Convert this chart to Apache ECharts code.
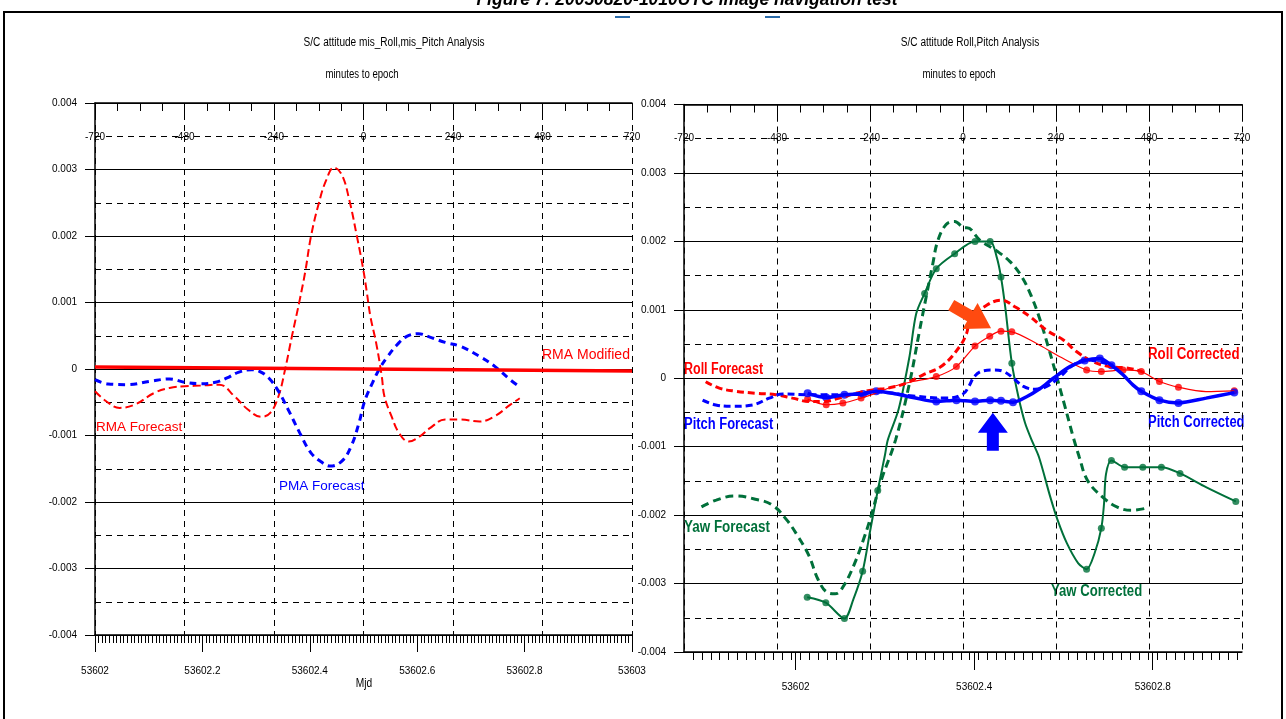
<!DOCTYPE html>
<html><head><meta charset="utf-8">
<script src="https://cdn.jsdelivr.net/npm/echarts@6/dist/echarts.min.js"></script>
<style>html,body{margin:0;padding:0;background:#fff}#c{width:1286px;height:719px}</style>
</head><body><div id="c"></div><script>
// ---------- data (x = minutes to epoch, y = attitude value) ----------
const minuteTicks = [-720, -480, -240, 0, 240, 480, 720];
const yTicks = [-0.004, -0.003, -0.002, -0.001, 0, 0.001, 0.002, 0.003, 0.004];
const mjdLabelsRight = [53602, 53602.4, 53602.8];

// left chart
const rmaModified = [[-720, 0.00003], [720, -0.00003]];
const rmaForecast = [[-720,-0.000335],[-690,-0.000485],[-654,-0.000585],[-613,-0.000535],[-561,-0.00036],[-520,-0.000285],[-479,-0.00026],[-438,-0.00025],[-387,-0.000235],[-346,-0.00041],[-310,-0.00061],[-274,-0.00072],[-250,-0.00066],[-228,-0.00041],[-210,0],[-192,0.00049],[-171,0.00104],[-156,0.00147],[-141,0.00199],[-120,0.00249],[-100,0.00284],[-79,0.00303],[-58,0.00292],[-38,0.00254],[-17.5,0.00199],[-2,0.00154],[8,0.00119],[18.5,0.00079],[34,0.00039],[49,-0.00011],[56,-0.00041],[75,-0.00071],[95,-0.00096],[121,-0.00109],[152,-0.00101],[178,-0.00089],[219,-0.00076],[260,-0.00076],[311,-0.00079],[352,-0.00071],[393,-0.00054],[419,-0.00044]];
const pmaForecast = [[-720,-0.00016],[-685,-0.000225],[-633,-0.000235],[-572,-0.000185],[-520,-0.00015],[-479,-0.0002],[-438,-0.00022],[-397,-0.0002],[-366,-0.000135],[-336,-0.00005],[-300,-0.00001],[-279,-0.000035],[-254,-0.000135],[-228,-0.000335],[-202,-0.00061],[-171,-0.00096],[-141,-0.00126],[-110,-0.00141],[-89,-0.00146],[-58,-0.001385],[-33,-0.00116],[-12,-0.00081],[3,-0.000485],[24,-0.00021],[44,0.000015],[65,0.00019],[90,0.000365],[116,0.00049],[147,0.00053],[178,0.00048],[219,0.0004],[260,0.00034],[311,0.00019],[352,0.00004],[393,-0.00016],[419,-0.00027]];

// right chart
const rollForecast = [[-664,-0.00005],[-629,-0.000145],[-586,-0.00019],[-534,-0.00022],[-483,-0.00024],[-440,-0.00029],[-396,-0.00034],[-362,-0.00034],[-319,-0.00029],[-276,-0.00022],[-233,-0.00017],[-190,-0.00014],[-146,-0.00007],[-103,0.00005],[-52,0.00019],[-9,0.00046],[9,0.00065],[19,0.00085],[62,0.00107],[100,0.00114],[135,0.00104],[173,0.0009],[216,0.0007],[259,0.00056],[293,0.00039],[336,0.00024],[379,0.00017],[422,0.00015],[460,0.0001],[473,0.00005]];
const rollCorrected = [[-401,-0.000305],[-353,-0.000387],[-310,-0.000363],[-263,-0.00029],[-224,-0.000218],[-181,-0.000121],[-129,-0.000048],[-69,0.000024],[-17,0.00017],[31,0.00047],[69,0.000615],[98,0.000688],[126,0.000678],[190,0.000508],[250,0.000315],[319,0.000121],[357,0.000097],[413,0.000121],[460,0.000097],[507,-0.000048],[556,-0.000131],[627,-0.000194],[700,-0.000184]];
const rollCorrectedDots = [[-401,-0.000305],[-353,-0.000387],[-310,-0.000363],[-263,-0.00029],[-69,0.000024],[-17,0.00017],[31,0.00047],[69,0.000615],[98,0.000688],[126,0.000678],[319,0.000121],[357,0.000097],[413,0.000121],[460,0.000097],[507,-0.000048],[556,-0.000131],[700,-0.000184]];
const pitchForecast = [[-672,-0.00032],[-638,-0.00039],[-595,-0.00041],[-543,-0.00039],[-500,-0.00029],[-465,-0.00023],[-405,-0.00024],[-310,-0.00024],[-224,-0.0002],[-129,-0.00026],[-43,-0.00029],[0,-0.00023],[15,-0.00012],[30,0.00003],[53,0.00011],[79,0.00012],[104,0.0001],[130,0],[156,-0.00012],[186,-0.00016],[216,-0.00012],[250,0.00002],[284,0.00019],[319,0.00027],[353,0.00024],[387,0.00019]];
const pitchCorrected = [[-401,-0.00022],[-353,-0.00028],[-306,-0.00024],[-258,-0.00023],[-224,-0.00019],[-172,-0.00023],[-129,-0.00028],[-69,-0.00034],[-17,-0.00032],[31,-0.00034],[70,-0.00032],[98,-0.00033],[129,-0.00035],[164,-0.00027],[199,-0.00015],[233,0],[276,0.00017],[314,0.00026],[353,0.00029],[383,0.00019],[413,0.00005],[439,-0.0001],[460,-0.00019],[507,-0.00032],[556,-0.00036],[627,-0.00029],[700,-0.00021]];
const pitchCorrectedDots = [[-401,-0.00022],[-353,-0.00028],[-306,-0.00024],[-258,-0.00023],[-224,-0.00019],[-69,-0.00034],[-17,-0.00032],[31,-0.00034],[70,-0.00032],[98,-0.00033],[129,-0.00035],[314,0.00026],[353,0.00029],[383,0.00019],[460,-0.00019],[507,-0.00032],[556,-0.00036],[700,-0.00021]];
const yawForecast = [[-675,-0.00188],[-637,-0.00178],[-589,-0.00172],[-541,-0.00176],[-493,-0.00185],[-455,-0.00207],[-426,-0.00231],[-397,-0.0026],[-374,-0.00294],[-350,-0.00313],[-330,-0.00315],[-311,-0.00306],[-283,-0.00275],[-254,-0.00231],[-235,-0.00197],[-211,-0.00149],[-174,-0.0009],[-138,-0.00007],[-112,0.0007],[-95,0.00119],[-78,0.00167],[-65,0.00201],[-43,0.00225],[-21.5,0.00229],[4,0.0022],[10,0.0022],[45,0.00201],[87,0.00186],[122,0.0017],[152,0.00148],[177,0.00119],[199,0.00085],[220,0.00046],[242,0.00002],[263,-0.00041],[284,-0.00085],[300,-0.00115],[321,-0.00149],[359,-0.00173],[397,-0.00188],[436,-0.00193],[479,-0.00189]];
const yawCorrected = [[-402,-0.0032],[-354,-0.00328],[-306,-0.00351],[-283,-0.00323],[-259,-0.00282],[-239,-0.00221],[-220,-0.00164],[-201,-0.00111],[-194,-0.0009],[-166,-0.00045],[-138,0.00032],[-121,0.00094],[-99,0.00124],[-69,0.0016],[-21.5,0.00182],[31,0.002],[70,0.002],[87,0.00177],[98,0.00148],[109,0.00104],[126,0.00022],[143,-0.00027],[160,-0.00065],[177,-0.0009],[196,-0.00115],[225,-0.00173],[244,-0.00207],[268,-0.00241],[297,-0.0027],[319,-0.00279],[340,-0.00255],[357,-0.00219],[364,-0.00183],[369,-0.0014],[383,-0.0012],[417,-0.0013],[464,-0.0013],[512,-0.0013],[560,-0.00139],[627,-0.00159],[704,-0.0018]];
const yawCorrectedDots = [[-402,-0.0032],[-354,-0.00328],[-306,-0.00351],[-259,-0.00282],[-220,-0.00164],[-99,0.00124],[-69,0.0016],[-21.5,0.00182],[31,0.002],[70,0.002],[98,0.00148],[126,0.00022],[319,-0.00279],[357,-0.00219],[383,-0.0012],[417,-0.0013],[464,-0.0013],[512,-0.0013],[560,-0.00139],[704,-0.0018]];
const redArrowAt = [21, 0.0009];
const blueArrowAt = [77, -0.00078];

// ---------- styling ----------
const NARROW = "'Liberation Sans Narrow','Liberation Sans',Arial,sans-serif";
const SANS = "'Liberation Sans',Arial,sans-serif";
const RED = '#ff0000', BLUE = '#0000ff', GREEN = '#00703a';
const BLACK = '#000';
const arrowPath = 'path://M15,0 L30,20 L21,20 L21,38 L9,38 L9,20 L0,20 Z';

function yFmt(v) { const r = Math.round(v * 1000) / 1000; return r === 0 ? '0' : r.toFixed(3); }
function mjdFmt(v) { return String(Math.round(v * 10) / 10); }

function minutesAxis(gi) {
  return {
    type: 'value', gridIndex: gi, position: 'top', min: -720, max: 720, interval: 240,
    axisLine: { show: true, onZero: false, lineStyle: { color: BLACK, width: 1.5 } },
    axisTick: { show: true, inside: true, length: 17, lineStyle: { color: BLACK, width: 1 } },
    minorTick: { show: true, splitNumber: 4, length: 8, lineStyle: { color: BLACK, width: 1 } },
    axisLabel: { inside: true, margin: 29, fontSize: 10, fontFamily: NARROW, color: BLACK },
    splitLine: { show: true, lineStyle: { color: BLACK, width: 1, type: [6, 5] } }
  };
}
function yAxisFor(gi) {
  return {
    type: 'value', gridIndex: gi, min: -0.004, max: 0.004, interval: 0.001,
    axisLine: { show: true, onZero: false, lineStyle: { color: BLACK, width: 1.5 } },
    axisTick: { show: true, length: 10, lineStyle: { color: BLACK } },
    minorTick: { show: false, splitNumber: 2 },
    axisLabel: { margin: 18, fontSize: 10, fontFamily: NARROW, color: BLACK, formatter: yFmt },
    splitLine: { show: true, lineStyle: { color: BLACK, width: 1 } },
    minorSplitLine: { show: true, lineStyle: { color: BLACK, width: 1, type: [6, 5] } }
  };
}

const minorRight = [];
for (let i = 1; i < 63; i++) minorRight.push(Math.round((53601.75 + i * 0.02) * 100) / 100);

function label(x, y, text, color, size, bold, sx) {
  return { type: 'text', x: x, y: y, scaleX: sx, style: { text: text, verticalAlign: 'middle', fontSize: size,
    fontWeight: bold ? 'bold' : 'normal', fontFamily: SANS, fill: color } };
}
function caption(x, y, text, sx) {
  return { type: 'text', x: x, y: y, scaleX: sx, style: { text: text, align: 'center', verticalAlign: 'middle',
    fontSize: 12, fontFamily: SANS, fill: BLACK } };
}

const option = {
  animation: false,
  backgroundColor: '#fff',
  grid: [
    { left: 95, top: 103, width: 537, height: 532, containLabel: false },
    { left: 684, top: 104.5, width: 558, height: 547.5, containLabel: false }
  ],
  xAxis: [
    minutesAxis(0),
    { type: 'value', gridIndex: 0, position: 'bottom', min: 53602, max: 53603, interval: 0.2,
      axisLine: { show: true, onZero: false, lineStyle: { color: BLACK, width: 1.5 } },
      axisTick: { show: true, length: 17, lineStyle: { color: BLACK } },
      minorTick: { show: true, splitNumber: 30, length: 8, lineStyle: { color: BLACK } },
      axisLabel: { margin: 31, fontSize: 10, fontFamily: NARROW, color: BLACK, formatter: mjdFmt },
      splitLine: { show: false } },
    minutesAxis(1),
    { type: 'value', gridIndex: 1, position: 'bottom', min: 53601.75, max: 53603,
      axisLine: { show: true, onZero: false, lineStyle: { color: BLACK, width: 1.5 } },
      axisTick: { show: true, length: 18, customValues: mjdLabelsRight, lineStyle: { color: BLACK } },
      axisLabel: { margin: 30, fontSize: 10, fontFamily: NARROW, color: BLACK, customValues: mjdLabelsRight, formatter: mjdFmt },
      splitLine: { show: false } },
    { type: 'value', gridIndex: 1, position: 'bottom', min: 53601.75, max: 53603,
      axisLine: { show: false, onZero: false },
      axisTick: { show: true, length: 8, customValues: minorRight, lineStyle: { color: BLACK } },
      axisLabel: { show: false, customValues: minorRight },
      splitLine: { show: false } }
  ],
  yAxis: [yAxisFor(0), yAxisFor(1)],
  series: [
    { type: 'line', xAxisIndex: 0, yAxisIndex: 0, data: rmaForecast, smooth: 0.4, showSymbol: false,
      lineStyle: { color: RED, width: 2, type: [8, 4] } },
    { type: 'line', xAxisIndex: 0, yAxisIndex: 0, data: pmaForecast, smooth: 0.4, showSymbol: false,
      lineStyle: { color: BLUE, width: 3, type: [7, 5] } },
    { type: 'line', xAxisIndex: 0, yAxisIndex: 0, data: rmaModified, showSymbol: false,
      lineStyle: { color: RED, width: 3.5 } },

    { type: 'line', xAxisIndex: 2, yAxisIndex: 1, data: yawForecast, smooth: 0.4, showSymbol: false,
      lineStyle: { color: GREEN, width: 3, type: [8, 5] } },
    { type: 'line', xAxisIndex: 2, yAxisIndex: 1, data: yawCorrected, smooth: 0.3, showSymbol: false,
      lineStyle: { color: GREEN, width: 2 } },
    { type: 'scatter', xAxisIndex: 2, yAxisIndex: 1, data: yawCorrectedDots, symbolSize: 7,
      itemStyle: { color: GREEN } },
    { type: 'line', xAxisIndex: 2, yAxisIndex: 1, data: rollForecast, smooth: 0.4, showSymbol: false,
      lineStyle: { color: RED, width: 3, type: [7, 4] },
      markPoint: { symbol: arrowPath, symbolSize: [30, 46], symbolRotate: -120, itemStyle: { color: '#ff4a10' },
        label: { show: false }, data: [{ coord: redArrowAt }] } },
    { type: 'line', xAxisIndex: 2, yAxisIndex: 1, data: rollCorrected, smooth: 0.3, showSymbol: false,
      lineStyle: { color: RED, width: 1.2 } },
    { type: 'scatter', xAxisIndex: 2, yAxisIndex: 1, data: rollCorrectedDots, symbolSize: 7,
      itemStyle: { color: RED } },
    { type: 'line', xAxisIndex: 2, yAxisIndex: 1, data: pitchForecast, smooth: 0.4, showSymbol: false,
      lineStyle: { color: BLUE, width: 3, type: [7, 4] },
      markPoint: { symbol: arrowPath, symbolSize: [30, 38], itemStyle: { color: BLUE },
        label: { show: false }, data: [{ coord: blueArrowAt }] } },
    { type: 'line', xAxisIndex: 2, yAxisIndex: 1, data: pitchCorrected, smooth: 0.3, showSymbol: false,
      lineStyle: { color: BLUE, width: 3.5 } },
    { type: 'scatter', xAxisIndex: 2, yAxisIndex: 1, data: pitchCorrectedDots, symbolSize: 8,
      itemStyle: { color: BLUE } }
  ],
  graphic: [
    { type: 'rect', shape: { x: 4, y: 12, width: 1278, height: 720 }, style: { fill: 'none', stroke: BLACK, lineWidth: 2 }, z: 100 },
    { type: 'text', x: 687, y: 9, style: { text: 'Figure 7: 20050820-1010UTC image navigation test', align: 'center', verticalAlign: 'bottom', fontSize: 17.5, fontWeight: 'bold', fontStyle: 'italic', fontFamily: SANS, fill: BLACK } },
    { type: 'rect', shape: { x: 615, y: 16, width: 15, height: 2 }, style: { fill: '#2a6aa8' } },
    { type: 'rect', shape: { x: 765, y: 16, width: 15, height: 2 }, style: { fill: '#2a6aa8' } },
    caption(394, 43, 'S/C attitude mis_Roll,mis_Pitch Analysis', 0.84),
    caption(362, 75, 'minutes to epoch', 0.8),
    caption(970, 43, 'S/C attitude Roll,Pitch Analysis', 0.84),
    caption(959, 75, 'minutes to epoch', 0.8),
    caption(364, 684, 'Mjd', 0.85),
    label(542, 355, 'RMA Modified', RED, 14, false, 1),
    label(96, 427, 'RMA Forecast', RED, 13.5, false, 1),
    label(279, 486, 'PMA Forecast', BLUE, 13.5, false, 1),
    label(684, 370, 'Roll Forecast', RED, 16, true, 0.78),
    label(684, 425, 'Pitch Forecast', BLUE, 16, true, 0.81),
    label(1148, 355, 'Roll Corrected', RED, 16, true, 0.83),
    label(1148, 423, 'Pitch Corrected', BLUE, 16, true, 0.81),
    label(684, 528, 'Yaw Forecast', GREEN, 16, true, 0.84),
    label(1051, 592, 'Yaw Corrected', GREEN, 16, true, 0.82)
  ]
};
const chart = echarts.init(document.getElementById('c'), null, { renderer: 'canvas' });
chart.setOption(option);
</script></body></html>
